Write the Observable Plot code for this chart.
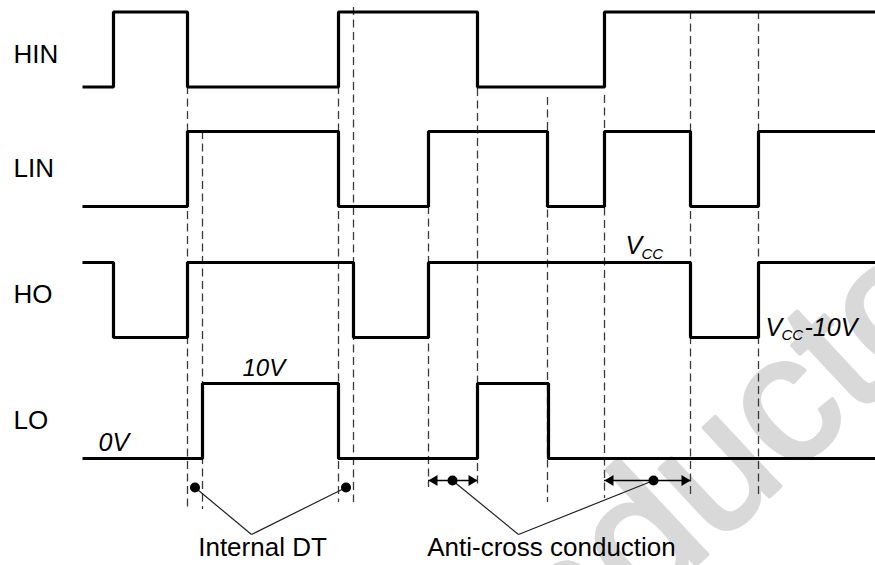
<!DOCTYPE html>
<html><head><meta charset="utf-8">
<script src="https://cdn.jsdelivr.net/npm/d3@7"></script>
<script src="https://cdn.jsdelivr.net/npm/@observablehq/plot@0.6"></script>
<style>
html,body{margin:0;padding:0;background:#fff;overflow:hidden}
#chart svg{display:block;overflow:hidden}
</style>
</head><body><div id="chart"></div>
<script>
// ---- data: signal names, initial logic levels and transition times ----
const signals = ["HIN", "LIN", "HO", "LO"];
const startLevels = [0, 0, 1, 0];
const hinEdges = [113, 187, 338, 477, 604];
const linEdges = [187, 338, 428, 547, 604, 690, 758];
const hoEdges  = [113, 187, 353, 428, 690, 758];
const loEdges  = [202, 338, 477, 548];
const tStart = 82, tEnd = 875;

// reference (dashed) time markers
const markerTimes = [187, 202, 338, 353, 428, 477, 547, 604, 690, 758];
// dead-time pairs and anti-cross-conduction intervals
const deadTimePairs = [[187, 202], [338, 353]];
const antiCrossSpans = [[428, 477], [604, 690]];
const antiCrossDots = [452, 653];

// ---- layout ----
const W = 875, H = 565;
const laneLow = [86.5, 206, 337, 458];
const amp = 75;
const yOf = (lane, lvl) => laneLow[lane] - lvl * amp;
const markerTop = [86, 131, 86, 7, 206, 88, 97, 95, 11, 11];
const markerBottom = [509, 509, 502, 502, 487, 487, 502, 498, 497, 497];
const labelBaselines = [62, 176, 302, 428];
const FONT = "Arial, 'Liberation Sans', Helvetica, sans-serif";

const allEdges = [hinEdges, linEdges, hoEdges, loEdges];
const wavePts = [];
signals.forEach((s, i) => {
  let lvl = startLevels[i];
  wavePts.push({s, t: tStart, y: yOf(i, lvl)});
  for (const e of allEdges[i]) { lvl = 1 - lvl; wavePts.push({s, t: e, y: yOf(i, lvl)}); }
  wavePts.push({s, t: tEnd, y: yOf(i, lvl)});
});

const dashes = markerTimes.map((t, i) => ({t, y1: markerTop[i], y2: markerBottom[i]}));

const arrowY = 480, dtDotY = 487;
const dtDots = deadTimePairs.map(([a, b]) => ({t: (a + b) / 2, y: dtDotY}));
const dtJoin = {t: 251, y: 534};
const acJoin = {t: 518, y: 534};
const acDots = antiCrossDots.map(t => ({t, y: arrowY}));
const links = [
  ...dtDots.map(d => ({x1: d.t, y1: d.y, x2: dtJoin.t, y2: dtJoin.y})),
  ...acDots.map(d => ({x1: d.t, y1: d.y, x2: acJoin.t, y2: acJoin.y}))
];
const arrowLines = antiCrossSpans.map(([a, b]) => ({x1: a, x2: b, y: arrowY}));
const headsRight = antiCrossSpans.map(([a, b]) => ({t: b, y: arrowY}));
const headsLeft = antiCrossSpans.map(([a, b]) => ({t: a, y: arrowY}));
const arrowR = {draw(c){ c.moveTo(0,0); c.lineTo(-9,-5.5); c.lineTo(-9,5.5); c.closePath(); }};
const arrowL = {draw(c){ c.moveTo(0,0); c.lineTo(9,-5.5); c.lineTo(9,5.5); c.closePath(); }};

const italic = {fontFamily: FONT, fontStyle: "italic", textAnchor: "start", lineAnchor: "bottom", fill: "black"};

const chart = Plot.plot({
  width: W, height: H,
  margin: 0,
  x: {type: "linear", domain: [0, W], range: [0, W], axis: null},
  y: {type: "linear", domain: [0, H], range: [0, H], axis: null},
  style: {background: "white", fontFamily: FONT},
  marks: [
    // watermark
    Plot.text([{t: 430, y: 812, s: "conductor"}], {x: "t", y: "y", text: "s", rotate: -43, fontSize: 180,
      fill: "#d9d9d9", stroke: "#d9d9d9", strokeWidth: 4, textAnchor: "start", lineAnchor: "bottom", fontFamily: FONT}),
    // dashed markers
    Plot.ruleX(dashes, {x: "t", y1: "y1", y2: "y2", stroke: "#3a3a3a", strokeWidth: 1.3, strokeDasharray: "8,4.5"}),
    // waveforms
    Plot.line(wavePts, {x: "t", y: "y", z: "s", curve: "step-after", stroke: "black", strokeWidth: 3.2,
      strokeLinejoin: "miter", strokeLinecap: "butt"}),
    // lane labels
    Plot.text(signals, {x: () => 13, y: (d, i) => labelBaselines[i], text: d => d, fontSize: 26,
      textAnchor: "start", lineAnchor: "bottom", fontFamily: FONT, fill: "black"}),
    // voltage annotations
    Plot.text(["0V"], {...italic, x: () => 98, y: () => 450, text: d => d, fontSize: 25}),
    Plot.text(["10V"], {...italic, x: () => 242, y: () => 375, text: d => d, fontSize: 24}),
    Plot.text(["V"], {...italic, x: () => 625, y: () => 253, text: d => d, fontSize: 25}),
    Plot.text(["CC"], {...italic, x: () => 641, y: () => 258, text: d => d, fontSize: 15}),
    Plot.text(["V"], {...italic, x: () => 765, y: () => 335, text: d => d, fontSize: 25}),
    Plot.text(["CC"], {...italic, x: () => 781, y: () => 339, text: d => d, fontSize: 15}),
    Plot.text(["-10V"], {...italic, x: () => 804, y: () => 335, text: d => d, fontSize: 25}),
    // anti-cross arrows
    Plot.ruleY(arrowLines, {x1: "x1", x2: "x2", y: "y", stroke: "black", strokeWidth: 1.3}),
    Plot.dot(headsRight, {x: "t", y: "y", symbol: arrowR, fill: "black", stroke: "none", r: 4}),
    Plot.dot(headsLeft, {x: "t", y: "y", symbol: arrowL, fill: "black", stroke: "none", r: 4}),
    // callout lines and dots
    Plot.link(links, {x1: "x1", y1: "y1", x2: "x2", y2: "y2", stroke: "#222", strokeWidth: 1.2}),
    Plot.dot([...dtDots, ...acDots], {x: "t", y: "y", r: 5, fill: "black", stroke: "none"}),
    // bottom captions
    Plot.text(["Internal DT"], {x: () => 262, y: () => 555, text: d => d, fontSize: 26, textAnchor: "middle",
      lineAnchor: "bottom", fontFamily: FONT, fill: "black"}),
    Plot.text(["Anti-cross conduction"], {x: () => 551, y: () => 555, text: d => d, fontSize: 26, textAnchor: "middle",
      lineAnchor: "bottom", fontFamily: FONT, fill: "black"})
  ]
});
document.getElementById("chart").appendChild(chart);
</script>
</body></html>
